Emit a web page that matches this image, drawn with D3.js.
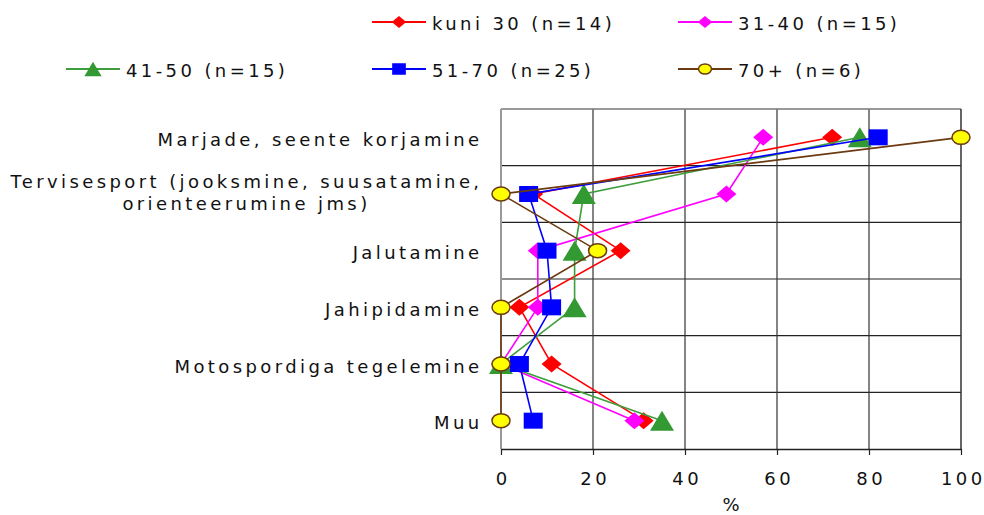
<!DOCTYPE html>
<html>
<head>
<meta charset="utf-8">
<script src="https://cdn.jsdelivr.net/npm/d3@7"></script>
<style>
  html, body { margin: 0; padding: 0; background: #fff; }
  svg { display: block; }
  text { font-family: "DejaVu Sans", Verdana, sans-serif; font-size: 18px; fill: #111; letter-spacing: 3.4px; }
</style>
</head>
<body>
<svg id="chart" width="984" height="515"></svg>
<script>
// ---- data ----
const categories = [
  "Marjade, seente korjamine",
  "Tervisesport (jooksmine, suusatamine,|orienteerumine jms)",
  "Jalutamine",
  "Jahipidamine",
  "Motospordiga tegelemine",
  "Muu"
];
const seriesNames = ["kuni 30 (n=14)", "31-40 (n=15)", "41-50 (n=15)", "51-70 (n=25)", "70+ (n=6)"];
const valuesKuni30 = [72, 7, 26, 4, 11, 31];
const values31to40 = [57, 49, 8, 8, 0, 29];
const values41to50 = [78, 18, 16, 16, 0, 35];
const values51to70 = [82, 6, 10, 11, 4, 7];
const values70plus = [100, 0, 21, 0, 0, 0];
const xTicks = [0, 20, 40, 60, 80, 100];
const xTitle = "%";

// ---- styles ----
const styles = [
  { line: "#FF0000", fill: "#FF0000", stroke: "none", shape: "diamond" },
  { line: "#FF00FF", fill: "#FF00FF", stroke: "none", shape: "diamond" },
  { line: "#3E9E3E", fill: "#339933", stroke: "none", shape: "triangle" },
  { line: "#0000FF", fill: "#0000FF", stroke: "none", shape: "square" },
  { line: "#6B3A10", fill: "#FFFF00", stroke: "#6B3A10", shape: "circle" }
];
const allValues = [valuesKuni30, values31to40, values41to50, values51to70, values70plus];

const svg = d3.select("#chart");
const plot = { left: 501, right: 961, top: 109, bottom: 449 };

const x = d3.scaleLinear().domain([0, 100]).range([plot.left, plot.right]);
const y = d3.scaleBand().domain(categories).range([plot.top, plot.bottom]).padding(0);
const yc = c => y(c) + y.bandwidth() / 2;

// marker path
function markerPath(shape, s) {
  s = s || 1;
  if (shape === "diamond") { const w = 20 * s, h = 17 * s; return `M0,${-h/2}L${w/2},0L0,${h/2}L${-w/2},0Z`; }
  if (shape === "square") { const w = 19 * s, h = 16 * s; return `M${-w/2},${-h/2}h${w}v${h}h${-w}Z`; }
  if (shape === "triangle") { const w = 24 * s, h = 20 * s; return `M0,${-h/2}L${w/2},${h/2}L${-w/2},${h/2}Z`; }
  return null;
}
function drawMarker(g, st, cx, cy, s) {
  s = s || 1;
  if (st.shape === "circle") {
    g.append("ellipse").attr("cx", cx).attr("cy", cy).attr("rx", 9 * s).attr("ry", 7 * s)
      .attr("fill", st.fill).attr("stroke", st.stroke).attr("stroke-width", 1.5);
  } else {
    g.append("path").attr("d", markerPath(st.shape, s)).attr("transform", `translate(${cx},${cy})`)
      .attr("fill", st.fill);
  }
}

// ---- grid ----
const grid = svg.append("g");
categories.slice(1).forEach(c => {
  grid.append("line").attr("x1", plot.left).attr("x2", plot.right)
    .attr("y1", y(c)).attr("y2", y(c)).attr("stroke", "#222").attr("stroke-width", 1.2);
});
xTicks.filter(t => t > 0 && t < 100).forEach(t => {
  grid.append("line").attr("x1", x(t)).attr("x2", x(t))
    .attr("y1", plot.top).attr("y2", plot.bottom).attr("stroke", "#333").attr("stroke-width", 1.2);
});
grid.append("line").attr("x1", plot.left).attr("x2", plot.right).attr("y1", plot.top).attr("y2", plot.top)
  .attr("stroke", "#777").attr("stroke-width", 1.5);
grid.append("line").attr("x1", plot.right).attr("x2", plot.right).attr("y1", plot.top).attr("y2", plot.bottom)
  .attr("stroke", "#333").attr("stroke-width", 1.5);
grid.append("line").attr("x1", plot.left).attr("x2", plot.left).attr("y1", plot.top).attr("y2", plot.bottom)
  .attr("stroke", "#999").attr("stroke-width", 2);

// ---- x axis ----
const xAxis = svg.append("g").attr("transform", `translate(0,${plot.bottom})`)
  .call(d3.axisBottom(x).tickValues(xTicks).tickSize(6).tickPadding(17).tickSizeOuter(0));
xAxis.select(".domain").attr("stroke", "#222").attr("stroke-width", 1.5);
xAxis.selectAll(".tick line").attr("stroke", "#222").attr("stroke-width", 1.2);
xAxis.selectAll(".tick text").attr("dx", "1.7").style("fill", "#111");
xAxis.attr("font-size", null).attr("font-family", null);

svg.append("text").attr("x", (plot.left + plot.right) / 2 + 1.7).attr("y", 511)
  .attr("text-anchor", "middle").text(xTitle);

// ---- category labels ----
const labelRight = 482.5;
categories.forEach(c => {
  const lines = c.split("|");
  const cy = yc(c);
  if (lines.length === 1) {
    svg.append("text").attr("x", labelRight).attr("y", cy + 8.7).attr("text-anchor", "end").text(lines[0]);
  } else {
    const g = svg.append("g");
    const ts = lines.map((l, i) => g.append("text").attr("y", cy - 5.7 + i * 22).attr("text-anchor", "middle").text(l));
    const maxW = d3.max(ts, t => t.node().getComputedTextLength());
    ts.forEach(t => t.attr("x", labelRight - maxW / 2));
  }
});

// ---- series ----
const lineGen = d3.line().x(d => x(d.v)).y(d => yc(d.c));
allValues.forEach((vals, i) => {
  const st = styles[i];
  const pts = categories.map((c, j) => ({ c, v: vals[j] }));
  const g = svg.append("g");
  g.append("path").attr("d", lineGen(pts)).attr("fill", "none")
    .attr("stroke", st.line).attr("stroke-width", 1.6);
  pts.forEach(p => drawMarker(g, st, x(p.v), yc(p.c), 1));
});

// ---- legend ----
const legendPos = [
  { x: 372, y: 22 }, { x: 678, y: 22 },
  { x: 66, y: 69 }, { x: 372, y: 69 }, { x: 678, y: 69 }
];
seriesNames.forEach((name, i) => {
  const st = styles[i];
  const p = legendPos[i];
  const g = svg.append("g");
  g.append("line").attr("x1", p.x).attr("x2", p.x + 54).attr("y1", p.y).attr("y2", p.y)
    .attr("stroke", st.line).attr("stroke-width", 2);
  drawMarker(g, st, p.x + 27, p.y, 0.72);
  g.append("text").attr("x", p.x + 60).attr("y", p.y + 7.5).text(name);
});
</script>
</body>
</html>
